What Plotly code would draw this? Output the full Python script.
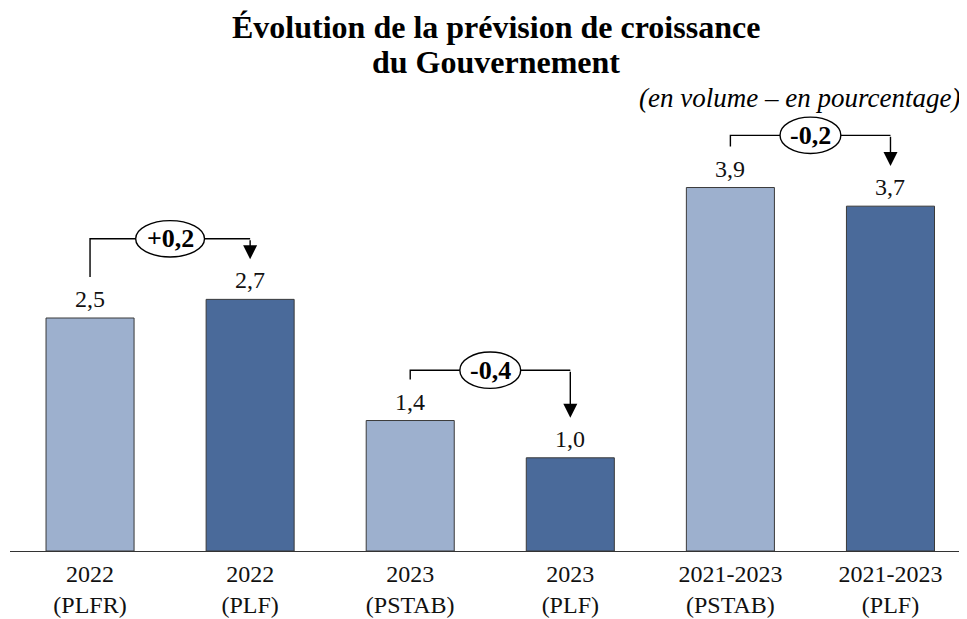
import plotly.graph_objects as go

# ---- data ----
tick_labels = ["2022<br>(PLFR)", "2022<br>(PLF)", "2023<br>(PSTAB)", "2023<br>(PLF)",
               "2021-2023<br>(PSTAB)", "2021-2023<br>(PLF)"]
values = [2.5, 2.7, 1.4, 1.0, 3.9, 3.7]
bar_kind = ["old", "new", "old", "new", "old", "new"]
pairs = [(0, 1), (2, 3), (4, 5)]
pair_labels = ["+0,2", "-0,4", "-0,2"]
title_lines = ["Évolution de la prévision de croissance", "du Gouvernement"]
subtitle = "(en volume – en pourcentage)"

# ---- style ----
colors = {"old": "#9DB0CE", "new": "#4A6A9A"}
bracket_lift = [0.65, 0.54, 0.56]
SERIF = "Liberation Serif"
W, H = 959, 611          # page body has an 8px margin
ML, MR, MT, MB = 2, 0, 77, 68
PW, PH = W - ML - MR, H - MT - MB


def px_to_paper(xp, yp):
    """figure-pixel position -> paper coordinates"""
    return (xp - ML) / PW, 1 - (yp - MT) / PH


x = list(range(len(values)))
fig = go.Figure()
fig.add_trace(go.Bar(
    x=x, y=values,
    marker=dict(color=[colors[k] for k in bar_kind], line=dict(color="#3a3a3a", width=1)),
    width=0.55, showlegend=False, hoverinfo="skip",
))

annotations = []
shapes = []
# value labels
for xi, v in zip(x, values):
    annotations.append(dict(
        x=xi, y=v, xref="x", yref="y", text=f"{v:.1f}".replace(".", ","),
        showarrow=False, yshift=19, yanchor="middle",
        font=dict(family=SERIF, size=24, color="#111"),
    ))

# brackets with ellipse labels
for (i, j), lab, lift in zip(pairs, pair_labels, bracket_lift):
    v1, v2 = values[i], values[j]
    yh = max(v1, v2) + lift
    ylow = v1 + 0.44
    ytip = v2 + 0.43
    shapes.append(dict(
        type="path", xref="x", yref="y",
        path=f"M {i},{ylow} L {i},{yh} L {j},{yh}",
        line=dict(color="black", width=1.4),
    ))
    annotations.append(dict(
        x=j, y=ytip, ax=j, ay=yh, xref="x", yref="y", axref="x", ayref="y",
        text="", showarrow=True, arrowhead=2, arrowsize=2.0, arrowwidth=1.4,
        arrowcolor="black",
    ))
    xm = (i + j) / 2
    hw = 0.215 if lab.startswith("+") else 0.19
    hh = 0.195
    shapes.append(dict(
        type="circle", xref="x", yref="y",
        x0=xm - hw, x1=xm + hw, y0=yh - hh, y1=yh + hh,
        fillcolor="white", line=dict(color="black", width=1.4), layer="above",
    ))
    annotations.append(dict(
        x=xm, y=yh, xref="x", yref="y", text=f"<b>{lab}</b>", showarrow=False,
        font=dict(family=SERIF, size=26, color="black"),
    ))

# title and subtitle
for line, yc in zip(title_lines, [19, 54]):
    px_, py_ = px_to_paper(488, yc)
    annotations.append(dict(
        x=px_, y=py_, xref="paper", yref="paper", xanchor="center", yanchor="middle",
        text=f"<b>{line}</b>", showarrow=False,
        font=dict(family=SERIF, size=32, color="black"),
    ))
px_, py_ = px_to_paper(954, 90)
annotations.append(dict(
    x=px_, y=py_, xref="paper", yref="paper", xanchor="right", yanchor="middle",
    text=f"<i>{subtitle}</i>", showarrow=False,
    font=dict(family=SERIF, size=27, color="black"),
))

fig.update_layout(
    width=W, height=H,
    margin=dict(l=ML, r=MR, t=MT, b=MB, autoexpand=False),
    plot_bgcolor="white", paper_bgcolor="white",
    bargap=0.45,
    shapes=shapes, annotations=annotations,
    xaxis=dict(
        range=[-0.5, 5.478], tickvals=x, ticktext=tick_labels,
        showline=True, linecolor="#333", linewidth=1.3, showgrid=False,
        zeroline=False, ticks="", tickfont=dict(family=SERIF, size=24, color="#111"),
        ticklabelstandoff=1, automargin=False,
    ),
    yaxis=dict(range=[0, 5.0], visible=False, showgrid=False, zeroline=False),
)

fig.write_html("out.html")
